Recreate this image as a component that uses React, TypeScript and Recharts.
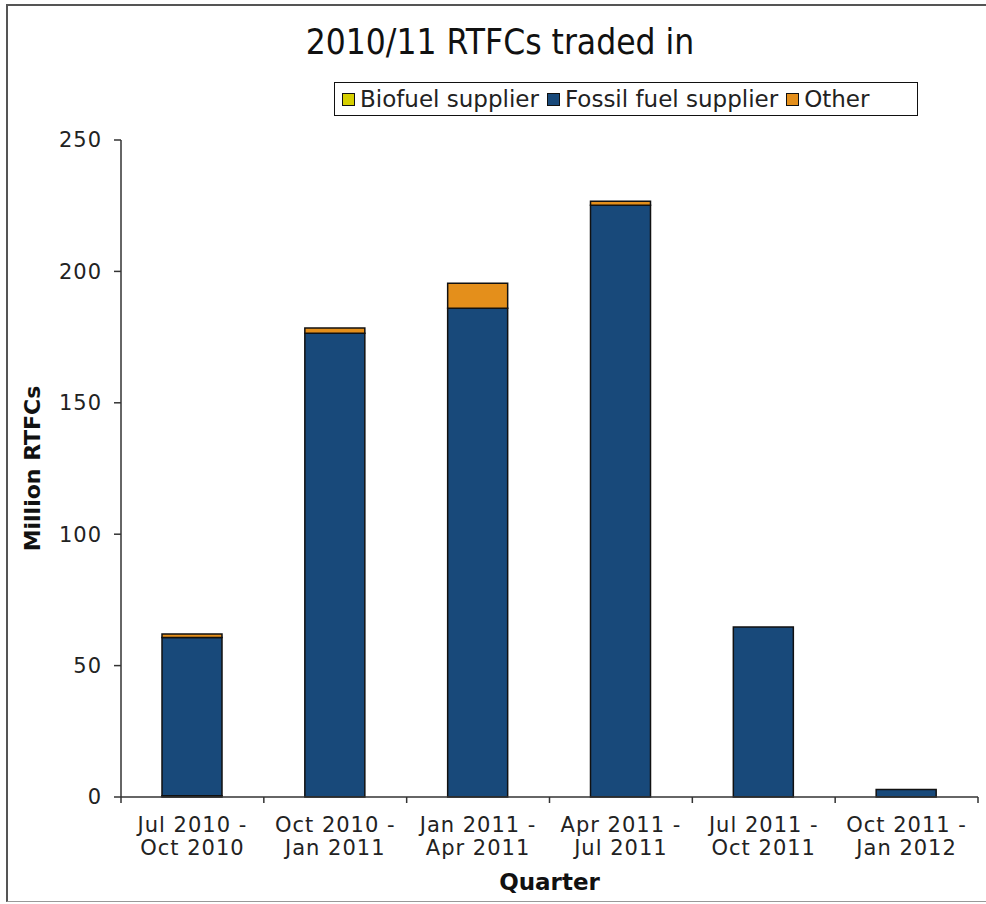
import React from "react";
import { BarChart, Bar, XAxis, YAxis, Legend } from "recharts";

const quarters = [
  "Jul 2010 - Oct 2010",
  "Oct 2010 - Jan 2011",
  "Jan 2011 - Apr 2011",
  "Apr 2011 - Jul 2011",
  "Jul 2011 - Oct 2011",
  "Oct 2011 - Jan 2012",
];
const biofuel = [0.5, 0, 0, 0, 0, 0];
const fossil = [60.2, 176.5, 186, 225.2, 64.7, 2.9];
const other = [1.3, 2, 9.5, 1.5, 0, 0];
const yTicks = [0, 50, 100, 150, 200, 250];

const data = quarters.map((q, i) => ({
  quarter: q,
  biofuel: biofuel[i],
  fossil: fossil[i],
  other: other[i],
}));

const W = 986;
const H = 904;
const LEGEND_H = 34;
// legend height gets added to the top offset by recharts
const M = { top: 140 - LEGEND_H, right: 8, bottom: 0, left: 0 };
const Y_W = 121;
const X_H = 107;
const band = (W - M.right - M.left - Y_W) / quarters.length;

const font = "'DejaVu Sans', Verdana, sans-serif";

const QuarterTick = (props: any) => {
  const { x, y, payload, index } = props;
  const s: string = payload.value;
  const cut = s.indexOf(" - ");
  const l1 = s.slice(0, cut) + " -";
  const l2 = s.slice(cut + 3);
  const txt = { textAnchor: "middle" as const, fill: "#222", fontSize: 21, letterSpacing: 1, fontFamily: font };
  return (
    <g>
      <line x1={x - band / 2} x2={x - band / 2} y1={y} y2={y + 6} stroke="#333" strokeWidth={1.5} />
      {index === quarters.length - 1 && (
        <line x1={x + band / 2} x2={x + band / 2} y1={y} y2={y + 6} stroke="#333" strokeWidth={1.5} />
      )}
      <text x={x} y={y + 35} {...txt}>
        {l1}
      </text>
      <text x={x} y={y + 58} {...txt}>
        {l2}
      </text>
    </g>
  );
};

const YLabel = (props: any) => {
  const vb = props.viewBox || {};
  const cy = vb.y + vb.height / 2;
  return (
    <text
      x={32}
      y={cy}
      transform={`rotate(-90, 32, ${cy})`}
      textAnchor="middle"
      dominantBaseline="central"
      fontSize={22}
      fontWeight="bold"
      fontFamily={font}
      fill="#111"
    >
      Million RTFCs
    </text>
  );
};

const XLabel = (props: any) => {
  const vb = props.viewBox || {};
  return (
    <text
      x={vb.x + vb.width / 2}
      y={890}
      textAnchor="middle"
      fontSize={23}
      fontWeight="bold"
      fontFamily={font}
      fill="#111"
    >
      Quarter
    </text>
  );
};

const legendItems = [
  { label: "Biofuel supplier", color: "#D6CF00" },
  { label: "Fossil fuel supplier", color: "#18497A" },
  { label: "Other", color: "#E48F1B" },
];

const LegendBox = () => (
  <div
    style={{
      display: "flex",
      alignItems: "center",
      border: "1px solid #111",
      height: LEGEND_H,
      width: 584,
      boxSizing: "border-box",
      paddingLeft: 7,
      background: "#fff",
      fontFamily: font,
      fontSize: 23,
      color: "#222",
      whiteSpace: "nowrap",
    }}
  >
    {legendItems.map((it) => (
      <span key={it.label} style={{ display: "flex", alignItems: "center", marginRight: 8 }}>
        <span
          style={{
            display: "inline-block",
            width: 11,
            height: 11,
            background: it.color,
            border: "1px solid #111",
            marginRight: 5,
          }}
        />
        {it.label}
      </span>
    ))}
  </div>
);

export default function App() {
  return (
    <div style={{ position: "absolute", left: 0, top: 0, width: W, height: H, background: "#fff", overflow: "hidden" }}>
      <div
        style={{
          position: "absolute",
          left: 6,
          top: 4,
          width: W + 10,
          height: H - 6,
          borderTop: "2px solid #555",
          borderLeft: "2px solid #555",
          borderBottom: "1px solid #999",
          boxSizing: "border-box",
        }}
      />
      <div
        style={{
          position: "absolute",
          left: 0,
          width: 1000,
          top: 22,
          textAlign: "center",
          fontFamily: "'DejaVu Sans Condensed', 'DejaVu Sans', sans-serif",
          fontSize: 35,
          color: "#111",
        }}
      >
        2010/11 RTFCs traded in
      </div>
      <div style={{ position: "absolute", left: 0, top: 0 }}>
        <BarChart width={W} height={H} data={data} margin={M} barSize={60}>
          <Legend
            verticalAlign="top"
            content={<LegendBox />}
            wrapperStyle={{ position: "absolute", top: 82, left: 334, width: 584, height: LEGEND_H }}
          />
          <XAxis
            dataKey="quarter"
            height={X_H}
            interval={0}
            tickLine={false}
            tickSize={0}
            tickMargin={0}
            axisLine={{ stroke: "#333", strokeWidth: 1.5 }}
            tick={<QuarterTick />}
            label={<XLabel />}
          />
          <YAxis
            width={Y_W}
            domain={[0, 250]}
            ticks={yTicks}
            interval={0}
            tickSize={7}
            tickMargin={12}
            axisLine={{ stroke: "#333", strokeWidth: 1.5 }}
            tickLine={{ stroke: "#333", strokeWidth: 1.5 }}
            tick={{ fill: "#222", fontSize: 21, letterSpacing: 1, fontFamily: font }}
            label={<YLabel />}
          />
          <Bar dataKey="biofuel" stackId="a" fill="#D6CF00" stroke="#111" strokeWidth={1.5} isAnimationActive={false} />
          <Bar dataKey="fossil" stackId="a" fill="#18497A" stroke="#111" strokeWidth={1.5} isAnimationActive={false} />
          <Bar dataKey="other" stackId="a" fill="#E48F1B" stroke="#111" strokeWidth={1.5} isAnimationActive={false} />
        </BarChart>
      </div>
    </div>
  );
}
